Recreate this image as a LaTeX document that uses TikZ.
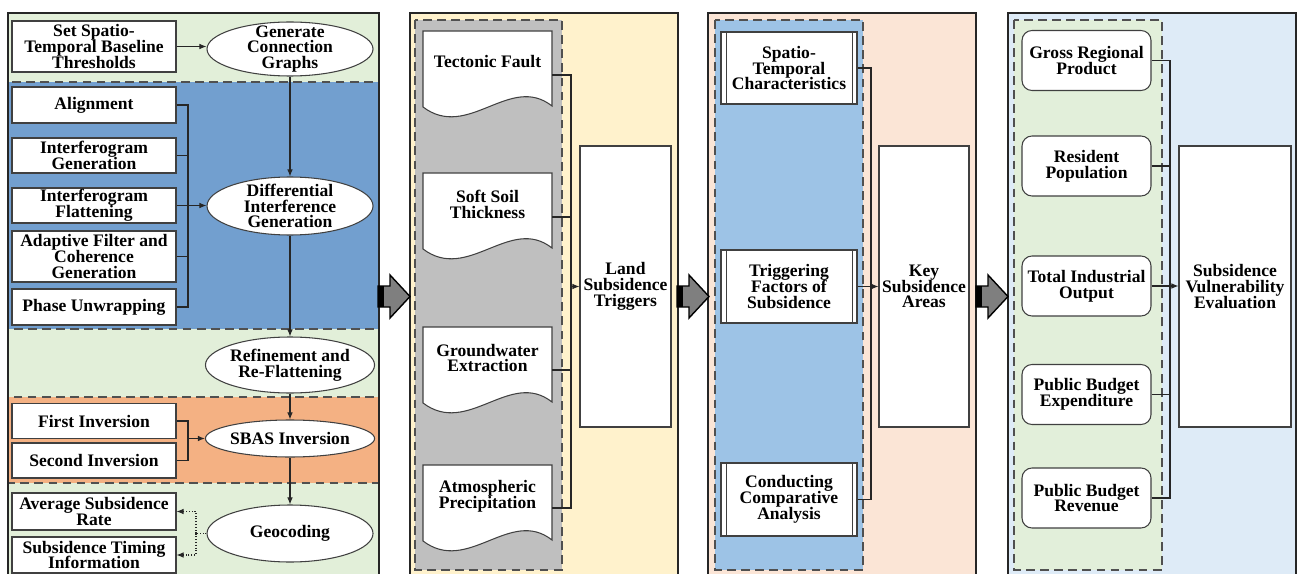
\documentclass[tikz,border=0pt]{standalone}
\usepackage{fontspec}
\setmainfont{Liberation Serif}
\usetikzlibrary{shapes.geometric,arrows.meta,calc}
\newdimen\pxu \pxu=0.02cm
\definecolor{pgreen}{HTML}{E2EFD9}
\definecolor{regblue}{HTML}{729FCF}
\definecolor{regorange}{HTML}{F4B183}
\definecolor{pyellow}{HTML}{FFF2CC}
\definecolor{reggray}{HTML}{BFBFBF}
\definecolor{ppeach}{HTML}{FBE5D6}
\definecolor{reglblue}{HTML}{9DC3E6}
\definecolor{plblue}{HTML}{DEEBF7}
\definecolor{reggreen}{HTML}{E2EFDA}
\definecolor{arrgray}{HTML}{7F7F7F}
\definecolor{boxline}{HTML}{404040}
\definecolor{dashc}{HTML}{505050}
\newcommand\docnode[3]{%
  \filldraw[fill=white, draw=boxline, line width=0.6pt] (423,#2) -- (552,#2) -- (552,{#2+75}) .. controls (510,{#2+42}) and (468,{#2+110}) .. (423,{#2+76}) -- cycle;
  \node[txt, minimum width=129\pxu, minimum height=62\pxu, inner sep=0pt] (#1) at (487.5,{#2+31}) {#3};
}
\newcommand\blockarr[1]{%
  \filldraw[fill=arrgray, draw=black, line width=0.8pt] (#1,286) -- ({#1+12},286) -- ({#1+12},275) -- ({#1+32},296.5) -- ({#1+12},318) -- ({#1+12},307) -- (#1,307) -- cycle;
  \fill[black] (#1,286) rectangle ({#1+6},307);
}
\begin{document}
\begin{tikzpicture}[x=0.02cm, y=-0.02cm,
  txt/.style={font={\fontsize{10}{9}\selectfont\bfseries\lineskiplimit=-20pt\lineskip=0pt}, align=center, text=black},
  box/.style={txt, draw=boxline, fill=white, line width=0.6pt, inner sep=0pt, minimum width=164\pxu},
  oval/.style={txt, ellipse, draw=boxline, fill=white, line width=0.6pt, inner xsep=0pt, inner ysep=-20pt, minimum width=166\pxu},
  rbox/.style={box, rounded corners=10\pxu, minimum width=129\pxu, minimum height=60\pxu},
  pbox/.style={box, minimum width=136\pxu, minimum height=72\pxu},
  tall/.style={box, minimum height=281\pxu},
  conn/.style={line width=0.6pt, draw=black!85},
  arr/.style={conn, -{Latex[length=4pt,width=3.2pt]}},
  dotarr/.style={arr, densely dotted},
  region/.style={draw=dashc, line width=0.9pt, dash pattern=on 5pt off 3pt},
  panel/.style={draw=black!85, line width=0.7pt}]
\useasboundingbox (0,0) rectangle (1297,574);
\clip (0,0) rectangle (1297,574);

% ---------- panel 1 ----------
\fill[pgreen] (8,13) rectangle (379,590);
\filldraw[fill=regblue, region] (8,82) rectangle (379,329);
\filldraw[fill=regorange, region] (8,397) rectangle (379,483);
\draw[panel] (8,590) -- (8,13) -- (379,13) -- (379,590);

\node[box, minimum height=51\pxu] (set) at (94,46.5) {Set Spatio-\\Temporal Baseline\\Thresholds};
\node[oval, minimum height=54\pxu] (gen) at (290,49) {Generate\\Connection\\Graphs};
\node[box, minimum height=36\pxu] (align) at (94,105) {Alignment};
\node[box, minimum height=35\pxu] (igen) at (94,155.5) {Interferogram\\Generation};
\node[box, minimum height=35\pxu] (iflat) at (94,205.5) {Interferogram\\Flattening};
\node[box, minimum height=51\pxu] (adapt) at (94,256.5) {Adaptive Filter and\\Coherence\\Generation};
\node[box, minimum height=36\pxu] (phase) at (94,307) {Phase Unwrapping};
\node[oval, minimum height=58\pxu] (diff) at (290,206) {Differential\\Interference\\Generation};
\node[oval, minimum height=56\pxu] (refine) at (290,365) {Refinement and\\Re-Flattening};
\node[box, minimum height=35\pxu] (first) at (94,421) {First Inversion};
\node[box, minimum height=35\pxu] (second) at (94,460.5) {Second Inversion};
\node[oval, minimum height=37\pxu] (sbas) at (290,438.5) {SBAS Inversion};
\node[oval, minimum height=57\pxu] (geo) at (290,533.5) {Geocoding};
\node[box, minimum height=37\pxu] (avg) at (94,511.5) {Average Subsidence\\Rate};
\node[box, minimum height=36\pxu] (timing) at (94,555) {Subsidence Timing\\Information};

\coordinate (b1) at (188,205.5);
\coordinate (b2) at (188,438.5);
\coordinate (dj) at (196,533.5);
\draw[arr] (set.east) -- (set.east -| gen.west);
\draw[arr] (gen.south) -- (diff.north);
\draw[conn] (align.east) -| (b1);
\draw[conn] (phase.east) -| (b1);
\draw[conn] (igen.east) -- (igen.east -| b1);
\draw[conn] (adapt.east) -- (adapt.east -| b1);
\draw[arr] (iflat.east) -- (iflat.east -| diff.west);
\draw[arr] (diff.south) -- (refine.north);
\draw[arr] (refine.south) -- (sbas.north);
\draw[conn] (first.east) -| (b2);
\draw[conn] (second.east) -| (b2);
\draw[arr] (b2) -- (sbas.west);
\draw[arr] (sbas.south) -- (geo.north);
\draw[conn, densely dotted] (geo.west) -- (dj);
\draw[dotarr] (dj) |- (avg.east);
\draw[dotarr] (dj) |- (timing.east);

% ---------- panel 2 ----------
\filldraw[fill=pyellow, panel] (410,13) rectangle (678,590);
\filldraw[fill=reggray, region] (415,20) rectangle (562,570);
\docnode{tf}{31}{Tectonic Fault}
\docnode{ss}{173}{Soft Soil\\Thickness}
\docnode{gw}{327}{Groundwater\\Extraction}
\docnode{ap}{465}{Atmospheric\\Precipitation}
\node[tall, minimum width=91\pxu] (lst) at (625.5,286.5) {Land\\Subsidence\\Triggers};
\coordinate (b3) at (571,286.5);
\draw[conn] ([yshift=-13\pxu]tf.east) -| (b3);
\draw[conn] ([yshift=-13\pxu]ss.east) -| (b3);
\draw[conn] ([yshift=-12\pxu]gw.east) -| (b3);
\draw[conn] ([yshift=-12\pxu]ap.east) -| (b3);
\draw[arr] (b3) -- (lst.west);

% ---------- panel 3 ----------
\filldraw[fill=ppeach, panel] (708,13) rectangle (976,590);
\filldraw[fill=reglblue, region] (715,20) rectangle (863,570);
\node[pbox] (stc) at (789,68) {Spatio-\\Temporal\\Characteristics};
\node[pbox, minimum height=73\pxu] (tfs) at (789,286.5) {Triggering\\Factors of\\Subsidence};
\node[pbox, minimum height=73\pxu] (cca) at (789,499.5) {Conducting\\Comparative\\Analysis};
\foreach \n in {stc,tfs,cca}{
  \draw[boxline, line width=0.6pt] ([xshift=6\pxu]\n.north west) -- ([xshift=6\pxu]\n.south west);
  \draw[boxline, line width=0.6pt] ([xshift=-5\pxu]\n.north east) -- ([xshift=-5\pxu]\n.south east);
}
\node[tall, minimum width=90\pxu] (ksa) at (924,286.5) {Key\\Subsidence\\Areas};
\coordinate (b4) at (871,286.5);
\draw[conn] (stc.east) -| (b4);
\draw[conn] (cca.east) -| (b4);
\draw[arr] (tfs.east) -- (ksa.west);

% ---------- panel 4 ----------
\filldraw[fill=plblue, panel] (1008,13) rectangle (1296,590);
\filldraw[fill=reggreen, region] (1014,20) rectangle (1162,570);
\node[rbox] (grp) at (1086.5,60.5) {Gross Regional\\Product};
\node[rbox] (rp) at (1086.5,166) {Resident\\Population};
\node[rbox] (tio) at (1086.5,286) {Total Industrial\\Output};
\node[rbox] (pbe) at (1086.5,394.5) {Public Budget\\Expenditure};
\node[rbox] (pbr) at (1086.5,498) {Public Budget\\Revenue};
\node[tall, minimum width=112\pxu] (sve) at (1235,286.5) {Subsidence\\Vulnerability\\Evaluation};
\coordinate (b5) at (1170,286);
\draw[conn] (grp.east) -| (b5);
\draw[conn] (rp.east) -| (b5);
\draw[conn] (pbe.east) -| (b5);
\draw[conn] (pbr.east) -| (b5);
\draw[arr] (tio.east) -- (tio.east -| sve.west);

% ---------- block arrows ----------
\blockarr{378}
\blockarr{677}
\blockarr{976}
\end{tikzpicture}
\end{document}
